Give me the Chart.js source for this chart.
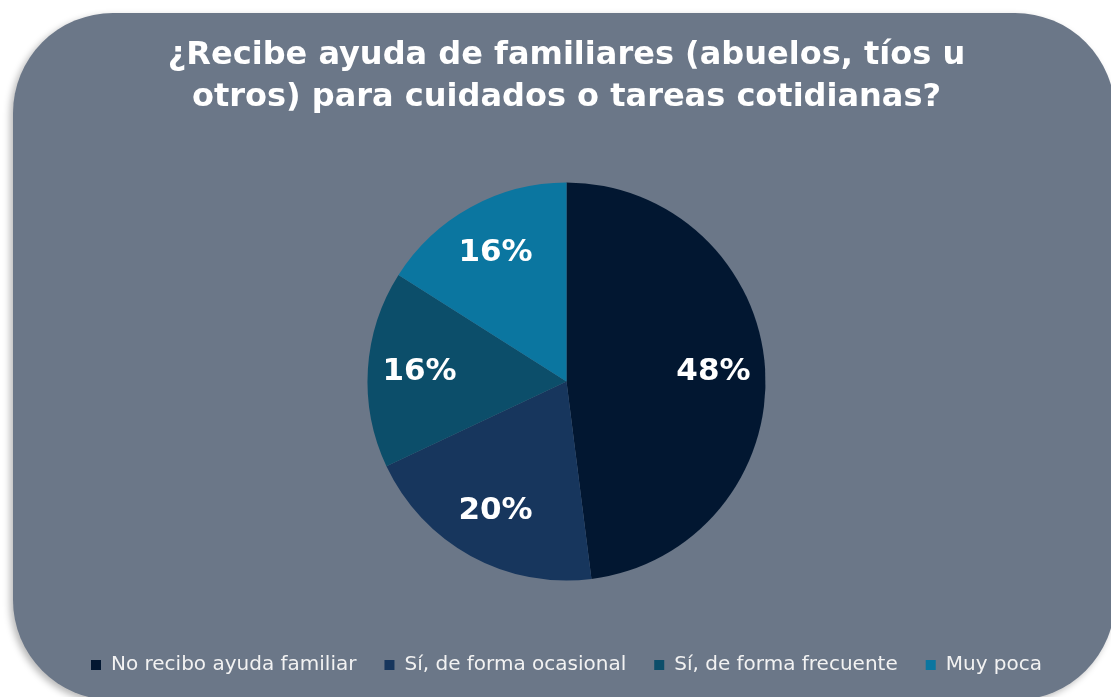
<!DOCTYPE html>
<html>
<head>
<meta charset="utf-8">
<script src="https://cdn.jsdelivr.net/npm/chart.js@4.4.1/dist/chart.umd.min.js"></script>
<style>
  html, body { margin: 0; padding: 0; background: #ffffff; }
  #wrap { width: 1111px; height: 697px; position: relative; }
</style>
</head>
<body>
<div id="wrap"><canvas id="pieChart"></canvas></div>
<script>
const categories = ['No recibo ayuda familiar', 'Sí, de forma ocasional', 'Sí, de forma frecuente', 'Muy poca'];
const values = [48, 20, 16, 16];
const sliceColors = ['#021731', '#17365d', '#0c4e6a', '#0b76a0'];
const titleLines = ['¿Recibe ayuda de familiares (abuelos, tíos u', 'otros) para cuidados o tareas cotidianas?'];

// fondo del panel con esquinas redondeadas
const panelPlugin = {
    id: 'panel',
    beforeDraw(chart) {
        const c = chart.ctx;
        c.save();
        c.shadowColor = 'rgba(0,0,0,0.28)';
        c.shadowBlur = 7;
        c.shadowOffsetX = -3;
        c.shadowOffsetY = 3;
        c.fillStyle = '#6b7788';
        c.beginPath();
        c.roundRect(13, 13, 1102, 687, 100);
        c.fill();
        c.restore();
    }
};

// etiquetas de porcentaje dentro de cada porción
const pctLabels = {
    id: 'pctLabels',
    afterDatasetsDraw(chart) {
        const c = chart.ctx;
        const meta = chart.getDatasetMeta(0);
        c.save();
        c.fillStyle = '#ffffff';
        c.font = 'bold 31px "DejaVu Sans", sans-serif';
        c.textAlign = 'center';
        c.textBaseline = 'middle';
        meta.data.forEach((arc, i) => {
            const p = arc.getProps(['x', 'y', 'startAngle', 'endAngle', 'outerRadius'], true);
            const mid = (p.startAngle + p.endAngle) / 2;
            const r = p.outerRadius * 0.74;
            c.fillText(values[i] + '%', p.x + Math.cos(mid) * r, p.y + Math.sin(mid) * r);
        });
        c.restore();
    }
};

const ctx = document.getElementById('pieChart').getContext('2d');
new Chart(ctx, {
    type: 'pie',
    data: {
        labels: categories,
        datasets: [{
            data: values,
            backgroundColor: sliceColors,
            borderWidth: 0,
            radius: 199
        }]
    },
    options: {
        responsive: true,
        maintainAspectRatio: false,
        animation: false,
        layout: {
            padding: { left: 22, right: 0, top: 0, bottom: 12 }
        },
        plugins: {
            title: {
                display: true,
                text: titleLines,
                color: '#ffffff',
                font: { family: '"DejaVu Sans", sans-serif', weight: 'bold', size: 32, lineHeight: 1.3 },
                padding: { top: 35, bottom: 18 }
            },
            legend: {
                position: 'bottom',
                labels: {
                    color: '#f2f2f2',
                    font: { family: '"DejaVu Sans", sans-serif', size: 20 },
                    boxWidth: 10,
                    boxHeight: 10,
                    padding: 28
                }
            },
            tooltip: { enabled: false }
        }
    },
    plugins: [panelPlugin, pctLabels]
});
</script>
</body>
</html>
